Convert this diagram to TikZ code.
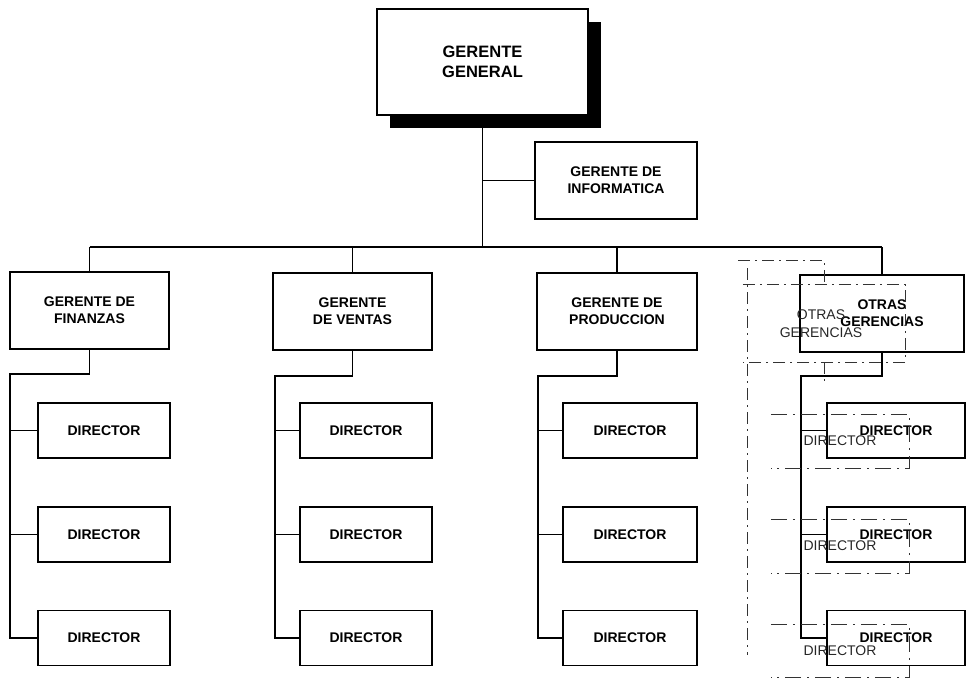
\documentclass[tikz,border=0pt]{standalone}
\usepackage{fontspec}
\setmainfont{Liberation Sans}
\usetikzlibrary{shadows}
\begin{document}
\begin{tikzpicture}[x=1pt,y=-1pt,
  box/.style={draw=black, line width=1.7pt, align=center, inner sep=0pt,
    font=\fontsize{14}{17}\selectfont\bfseries},
  mgr/.style={box, minimum width=159pt, minimum height=77pt},
  dirbox/.style={box, minimum width=132pt, minimum height=55pt},
  link/.style={line width=1.8pt},
  ghost/.style={line width=0.9pt, black!80, dash pattern=on 12pt off 5pt on 2pt off 5pt},
  ghostbox/.style={minimum width=138pt, minimum height=53pt, inner sep=0pt},
  ghosttext/.style={black!85, align=center, inner sep=0pt,
    font=\fontsize{14}{18}\selectfont}]
\useasboundingbox (0,0) rectangle (970,678);

% --- top of the chart ---
\node[box, fill=white, minimum width=211pt, minimum height=106pt,
  font=\fontsize{16.5}{20}\selectfont\bfseries,
  drop shadow={shadow xshift=13pt, shadow yshift=-13pt, opacity=1, fill=black}]
  (gg) at (482.5,62) {GERENTE\\GENERAL};
\node[box, minimum width=162pt, minimum height=77pt] (inf) at (616,180.5) {GERENTE DE\\INFORMATICA};

% --- managers ---
\node[mgr] (fin) at (89.5,310.5) {GERENTE DE\\FINANZAS};
\node[mgr] (ven) at (352.5,311.5) {GERENTE\\DE VENTAS};
\node[mgr, minimum width=160pt] (pro) at (617,311.5) {GERENTE DE\\PRODUCCION};
\node[mgr, minimum width=164pt, minimum height=77pt] (otr) at (882,313.5) {OTRAS\\GERENCIAS};

% --- directors ---
\foreach \c/\x/\w in {f/104/132, v/366/132, p/630/134, o/896/138}{
  \node[dirbox, minimum width=\w pt] (\c d1) at (\x,430.5) {DIRECTOR};
  \node[dirbox, minimum width=\w pt] (\c d2) at (\x,534.5) {DIRECTOR};
  \node[dirbox, minimum width=\w pt] (\c d3) at (\x,638) {DIRECTOR};
}

% --- connectors ---
\coordinate (bus) at (0,247);
\draw[link] (gg.south) -- (gg.south |- bus);
\draw[link] (inf.west) -- (inf.west -| gg.south);
\draw[link] (fin.north |- bus) -- (otr.north |- bus);
\foreach \m in {fin, ven, pro, otr}
  \draw[link] (\m.north) -- (\m.north |- bus);

\coordinate (fj) at (10,374);
\coordinate (vj) at (275,376);
\coordinate (pj) at (538,376);
\coordinate (oj) at (801,376);
\foreach \m/\c in {fin/f, ven/v, pro/p, otr/o}{
  \draw[link] (\m.south) |- (\c j) |- (\c d3.west);
  \draw[link] (\c d1.west) -- (\c d1.west -| \c j);
  \draw[link] (\c d2.west) -- (\c d2.west -| \c j);
}

% --- faint offset copy of the last column ---
\coordinate (gbus) at (738,260);
\node[minimum width=162pt, minimum height=77pt, inner sep=0pt] (gotr) at (824,323.5) {};
\draw[ghost] (gotr.north west) -- (gotr.north east) -- (gotr.south east) -- (gotr.south west);
\node[ghosttext] (gotrt) at (821,324) {OTRAS\\GERENCIAS};
\draw[ghost] (gbus) -| (gotr.north);
\draw[ghost] (gotr.south) -- ++(0,22);
\coordinate (gtop) at (747,268);
\coordinate (gbot) at (747,655);
\draw[ghost] (gtop) -- (gbot);
\foreach \i/\y/\t in {1/441.5/440.5, 2/546.5/545.5, 3/651/650.5}{
  \node[ghostbox] (gd\i) at (840,\y) {};
  \draw[ghost, dash pattern=on 16pt off 6pt on 2pt off 6pt]
    (gd\i.north west) -- (gd\i.north east) -- (gd\i.south east) -- (gd\i.south west);
  \node[ghosttext] (gdt\i) at (840,\t) {DIRECTOR};
}
\end{tikzpicture}
\end{document}
